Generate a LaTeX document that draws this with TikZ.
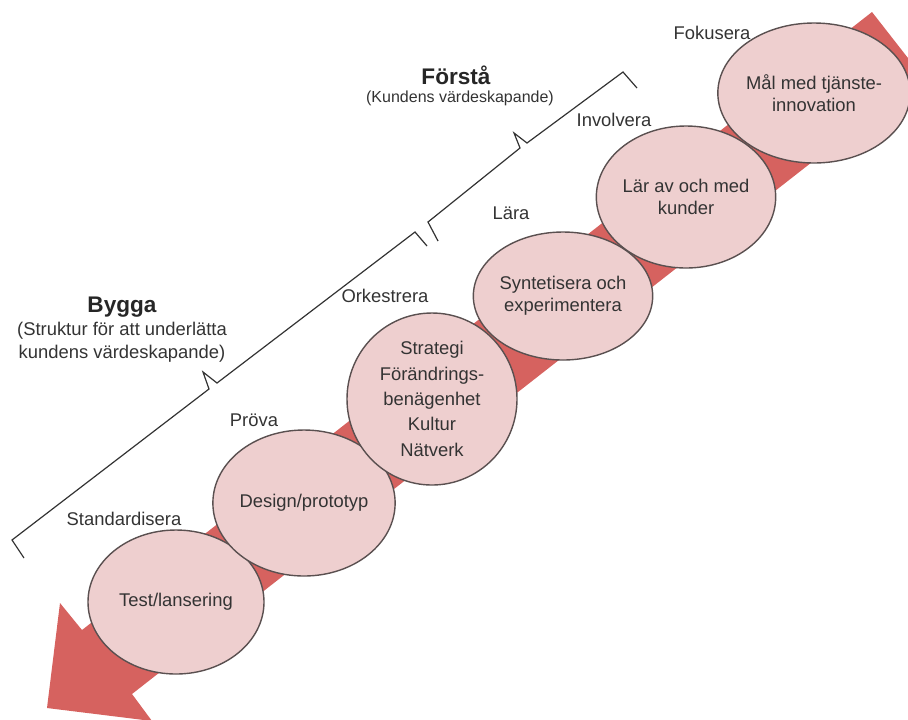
\documentclass[tikz,border=0pt]{standalone}
\usepackage{fontspec}
\setmainfont{Liberation Sans}
\usetikzlibrary{shapes.geometric}
\definecolor{arrowFill}{HTML}{D6625F}
\definecolor{stageFill}{HTML}{EECFCF}
\definecolor{stageStroke}{HTML}{5A5050}
\definecolor{inkGray}{HTML}{333333}
\tikzset{
  stage/.style = {
    ellipse, draw=stageStroke, line width=0.7pt, fill=stageFill,
    inner sep=0pt, outer sep=0pt, align=center, text=inkGray,
    font=\fontsize{9.2}{10.8}\selectfont,
  },
  verb/.style = {
    text=inkGray, inner sep=0pt, font=\fontsize{9.2}{11}\selectfont,
  },
  phase/.style = {
    text=black!85, inner sep=0pt, font=\fontsize{11.3}{13}\selectfont\bfseries,
  },
  phasenote/.style = {
    text=inkGray, inner sep=0pt, align=center,
    font=\fontsize{9.2}{11.5}\selectfont,
  },
  bracketline/.style = {draw=inkGray, line width=0.6pt, line join=miter},
}

\begin{document}
\begin{tikzpicture}[x=0.5pt, y=0.5pt]
\path[use as bounding box] (0,0) rectangle (908,-719);

% big arrow behind the stages
\coordinate (s1) at (872,-12);
\coordinate (s2) at (922,-76);
\coordinate (n1) at (82,-630);
\coordinate (n2) at (132,-694);
\coordinate (b1) at (60,-603);
\coordinate (b2) at (152,-721);
\coordinate (tip) at (47,-708);
\begin{scope}
  \clip (0,0) rectangle (908,-719);
  \fill[arrowFill] (s1) -- (n1) -- (b1) -- (tip) -- (b2) -- (n2) -- (s2) -- cycle;
\end{scope}

% stages
\node[stage, minimum width=88pt, minimum height=72pt] (test) at (176,-602) {Test/lansering};
\node[stage, minimum width=86pt, minimum height=73pt] (design) at (304,-503) {Design/prototyp};
\node[stage, minimum width=85pt, minimum height=86pt,
      font=\fontsize{9.2}{12.7}\selectfont] (strat) at (432,-399)
      {Strategi\\Förändrings-\\benägenhet\\Kultur\\Nätverk};
\node[stage, minimum width=88pt, minimum height=64pt] (synt) at (563,-296) {Syntetisera och\\experimentera};
\node[stage, minimum width=86pt, minimum height=71pt] (kund) at (686,-197) {Lär av och med\\kunder};
\node[stage, minimum width=85pt, minimum height=70pt] (mal) at (814,-93) {Mål med tjänste-\\innovation};

% verbs
\node[verb] (std) at (124,-519) {Standardisera};
\node[verb] (prv) at (254,-420) {Pröva};
\node[verb] (ork) at (385,-296) {Orkestrera};
\node[verb] (lar) at (511,-213) {Lära};
\node[verb] (inv) at (614,-120) {Involvera};
\node[verb] (fok) at (712,-33) {Fokusera};

% phases
\node[phase] (bygga) at (122,-307) {Bygga};
\node[phasenote] (byggaNote) at (122,-342) {(Struktur för att underlätta\\kundens värdeskapande)};
\node[phase] (forsta) at (456,-75) {Förstå};
\node[phasenote, font=\fontsize{8}{10}\selectfont] (forstaNote) at (460,-98) {(Kundens värdeskapande)};

% brackets
\coordinate (bgA) at (24,-558);
\coordinate (bgB) at (12,-540);
\coordinate (bgC) at (209,-389);
\coordinate (bgT) at (203,-372);
\coordinate (bgD) at (217,-383);
\coordinate (bgE) at (415,-232);
\coordinate (bgF) at (427,-246);
\draw[bracketline] (bgA) -- (bgB) -- (bgC) -- (bgT) -- (bgD) -- (bgE) -- (bgF);

\coordinate (fsA) at (438,-241);
\coordinate (fsB) at (428,-222);
\coordinate (fsC) at (520,-148);
\coordinate (fsT) at (514,-133);
\coordinate (fsD) at (527,-143);
\coordinate (fsE) at (623,-72);
\coordinate (fsF) at (637,-88);
\draw[bracketline] (fsA) -- (fsB) -- (fsC) -- (fsT) -- (fsD) -- (fsE) -- (fsF);

\end{tikzpicture}
\end{document}
